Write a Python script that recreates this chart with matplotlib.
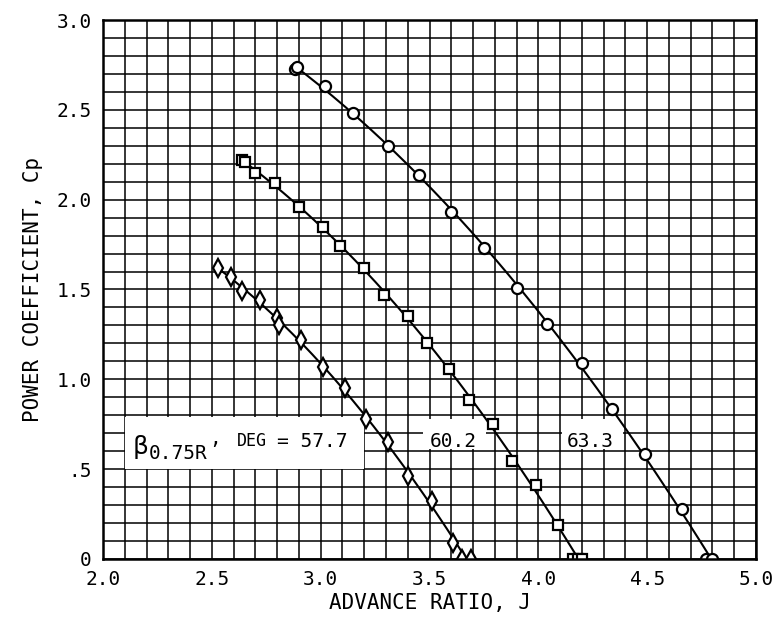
import numpy as np
import matplotlib
matplotlib.use("Agg")
import matplotlib.pyplot as plt
from matplotlib.patches import Rectangle

plt.rcParams['font.family'] = ['DejaVu Sans Mono', 'DejaVu Sans']

# ---- data ----
# beta = 57.7 deg (diamonds)
j_577 = [2.53, 2.59, 2.64, 2.72, 2.80, 2.81, 2.91, 3.01, 3.11, 3.21, 3.31, 3.40, 3.51, 3.61, 3.65, 3.69]
cp_577 = [1.62, 1.57, 1.49, 1.44, 1.34, 1.30, 1.22, 1.07, 0.95, 0.78, 0.65, 0.46, 0.32, 0.09, 0.0, 0.0]
# beta = 60.2 deg (squares)
j_602 = [2.64, 2.65, 2.70, 2.79, 2.90, 3.01, 3.09, 3.20, 3.29, 3.40, 3.49, 3.59, 3.68, 3.79, 3.88, 3.99, 4.09, 4.16, 4.18, 4.20]
cp_602 = [2.22, 2.21, 2.15, 2.09, 1.96, 1.85, 1.74, 1.62, 1.47, 1.35, 1.20, 1.06, 0.885, 0.75, 0.545, 0.41, 0.19, 0.0, 0.0, 0.0]
# beta = 63.3 deg (circles)
j_633 = [2.88, 2.89, 3.02, 3.15, 3.31, 3.45, 3.60, 3.75, 3.90, 4.04, 4.20, 4.34, 4.49, 4.66, 4.77, 4.80]
cp_633 = [2.73, 2.74, 2.63, 2.48, 2.30, 2.14, 1.93, 1.73, 1.51, 1.31, 1.09, 0.835, 0.585, 0.28, 0.0, 0.0]

x_ticks = [2.0, 2.5, 3.0, 3.5, 4.0, 4.5, 5.0]
x_ticklabels = ['2.0', '2.5', '3.0', '3.5', '4.0', '4.5', '5.0']
y_ticks = [0, 0.5, 1.0, 1.5, 2.0, 2.5, 3.0]
y_ticklabels = ['0', '.5', '1.0', '1.5', '2.0', '2.5', '3.0']
angle_labels = ['57.7', '60.2', '63.3']

fig = plt.figure(figsize=(7.77, 6.35), dpi=100)
ax = fig.add_axes([0.1326, 0.1197, 0.8404, 0.8488])

ax.set_xlim(2.0, 5.0)
ax.set_ylim(0, 3.0)
ax.set_xticks(x_ticks)
ax.set_xticklabels(x_ticklabels, fontsize=14)
ax.set_yticks(y_ticks)
ax.set_yticklabels(y_ticklabels, fontsize=14)
ax.set_xticks(np.arange(2.0, 5.0001, 0.1), minor=True)
ax.set_yticks(np.arange(0, 3.0001, 0.1), minor=True)
ax.grid(True, which='both', color='black', linewidth=1.1, zorder=0)
ax.set_axisbelow(True)
ax.tick_params(which='both', length=0, pad=8)
for s in ax.spines.values():
    s.set_linewidth(1.8)
    s.set_zorder(5)

ax.set_xlabel('ADVANCE RATIO, J', fontsize=15, labelpad=3)
ax.set_ylabel('POWER COEFFICIENT, Cp', fontsize=15, labelpad=10)

# white label backgrounds
for (x0, y0, w, h) in [(2.10, 0.50, 1.10, 0.29), (3.47, 0.61, 0.29, 0.17), (4.11, 0.61, 0.28, 0.17)]:
    ax.add_patch(Rectangle((x0, y0), w, h, facecolor='white', edgecolor='none', zorder=1))

series = [
    (j_577, cp_577, 'd', 9),
    (j_602, cp_602, 's', 7),
    (j_633, cp_633, 'o', 8),
]
for jx, cy, mk, ms in series:
    jx = np.array(jx); cy = np.array(cy)
    coef = np.polyfit(jx, cy, 2)
    xs = np.linspace(jx.min(), jx.max(), 200)
    ax.plot(xs, np.clip(np.polyval(coef, xs), 0, None), color='black', lw=1.5, zorder=3)
    ax.plot(jx, cy, linestyle='none', marker=mk, markersize=ms, markerfacecolor='white',
            markeredgecolor='black', markeredgewidth=1.6, zorder=4)

# label text
ax.text(2.135, 0.585, 'β', fontsize=18, zorder=6, family='DejaVu Sans')
ax.text(2.211, 0.555, '0.75R', fontsize=14, zorder=6)
ax.text(2.49, 0.64, ',', fontsize=14, zorder=6)
ax.text(2.616, 0.629, 'DEG', fontsize=12, zorder=6)
ax.text(2.80, 0.623, '= ' + angle_labels[0], fontsize=14, zorder=6)
ax.text(3.50, 0.623, angle_labels[1], fontsize=14, zorder=6)
ax.text(4.13, 0.623, angle_labels[2], fontsize=14, zorder=6)

fig.savefig('out.png', dpi=100)
